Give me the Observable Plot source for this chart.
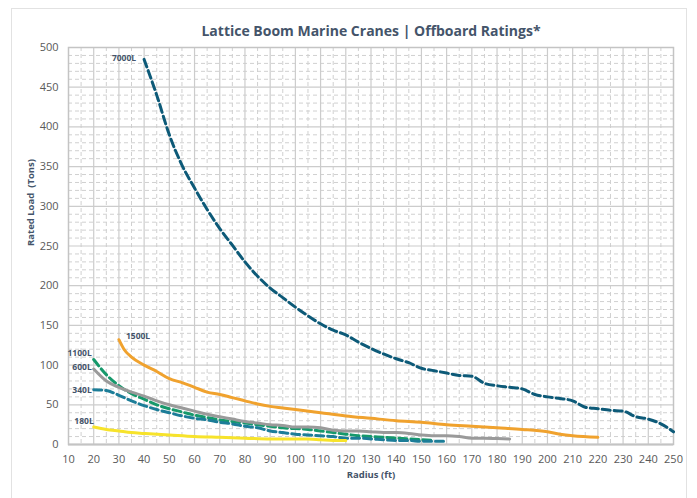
<!DOCTYPE html>
<html><head><meta charset="utf-8">
<script src="https://cdn.jsdelivr.net/npm/d3@7"></script>
<script src="https://cdn.jsdelivr.net/npm/@observablehq/plot@0.6"></script>
<style>
body{margin:0;background:#fff;font-family:"Open Sans",sans-serif;}
#wrap{position:relative;width:697px;height:498px;}
#card{position:absolute;left:11px;top:8px;width:676px;height:500px;border:1px solid #e2e2e2;box-sizing:border-box;pointer-events:none;}
</style></head>
<body><div id="wrap"><div id="card"></div></div>
<script>
const title = "Lattice Boom Marine Cranes | Offboard Ratings*";
const xLabel = "Radius (ft)";
const yLabel = "Rated Load  (Tons)";
const xTicks = d3.range(10, 251, 10);
const yTicks = d3.range(0, 501, 50);

const series = ["7000L", "1500L", "1100L", "600L", "340L", "180L"];

const radius7000 = [40,45,50,55,60,65,70,75,80,85,90,95,100,105,110,115,120,125,130,135,140,145,150,155,160,165,170,175,180,185,190,195,200,205,210,215,220,225,230,235,240,245,250];
const load7000   = [485,440,390,352,323,296,272,251,230,212,197,185,173,162,152,144,138,129,121,114,108,103,96,93,90,87,86,77,74,72,70,63,60,58,55,47,45,43,42,35,32,26,16];

const radius1500 = [30,32,35,40,45,50,55,60,65,70,75,80,85,90,95,100,110,120,130,140,150,160,170,180,190,200,205,210,220];
const load1500   = [132,120,110,100,92,83,78,72,66,63,59,55,51,48,46,44,40,36,33,30,28,25,23,21,19,16,13,11,9];

const radius1100 = [20,25,30,35,40,45,50,55,60,65,70,75,80,85,90,95,100,105,110,115,120,125,130,135,140,145,150,155];
const load1100   = [107,88,74,64,57,50,45,41,37,34,31,29,27,25,23,21,20,19,17,15,13,11,10,9,8,7,6,5];

const radius600 = [20,25,30,35,40,45,50,55,60,65,70,75,80,85,90,95,100,105,110,115,120,125,130,135,140,145,150,155,160,165,170,175,180,185];
const load600   = [95,80,72,66,61,55,50,46,42,38,35,32,29,27,25,24,22,22,21,18,17,17,16,15,15,14,12,11,11,10,8,8,7.5,7];

const radius340 = [20,25,30,35,40,45,50,55,60,65,70,75,80,85,90,95,100,105,110,115,120,125,130,135,140,145,150,155,160];
const load340   = [69,68,62,55,49,44,40,36,33,31,28,26,23,21,17,15,13,12,11,10,8,8,7,6,5,5,4,4,4];

const radius180 = [20,25,30,35,40,50,60,70,80,90,100,105,110,115,120];
const load180   = [22,19,17,15,14,12,10,9,8,7,7,7,6,5,5];

const radii = {"7000L":radius7000,"1500L":radius1500,"1100L":radius1100,"600L":radius600,"340L":radius340,"180L":radius180};
const loads = {"7000L":load7000,"1500L":load1500,"1100L":load1100,"600L":load600,"340L":load340,"180L":load180};
const colors = {"7000L":"#0d5a78","1500L":"#f0a22e","1100L":"#16996b","600L":"#9a9a9a","340L":"#1c7d98","180L":"#f7e32b"};
const dashed = {"7000L":true,"1500L":false,"1100L":true,"600L":false,"340L":true,"180L":false};

function rows(s){ return radii[s].map((r,i)=>({series:s, radius:r, load:loads[s][i]})); }

const labelOpts = {
  "7000L":{anchor:"end",dx:-8,dy:-1},
  "1500L":{anchor:"start",dx:7,dy:-3},
  "1100L":{anchor:"end",dx:-2,dy:-6},
  "600L":{anchor:"end",dx:-2,dy:-2},
  "340L":{anchor:"end",dx:-2,dy:1},
  "180L":{anchor:"end",dx:0,dy:-6}
};

const minorX = d3.range(15, 250, 10);
const minorY = d3.range(10, 500, 10).filter(v => v % 50 !== 0);
const majorX = d3.range(20, 250, 10);
const majorY = d3.range(50, 500, 50);

const marks = [
  Plot.ruleX(minorX, {stroke:"#d0d0d0", strokeDasharray:"4,3", strokeWidth:1}),
  Plot.ruleY(minorY, {stroke:"#d0d0d0", strokeDasharray:"4,3", strokeWidth:1}),
  Plot.ruleX(majorX, {stroke:"#cccccc", strokeWidth:1.2}),
  Plot.ruleY(majorY, {stroke:"#cccccc", strokeWidth:1.2}),
  Plot.frame({stroke:"#c4c4c4", strokeWidth:1.5}),
  Plot.ruleY([0], {stroke:"#c4c4c4", strokeWidth:2}),
];
for (const s of series) {
  marks.push(Plot.line(rows(s), {x:"radius", y:"load", stroke:colors[s], strokeWidth:3,
    strokeDasharray: dashed[s] ? "8,4" : null, curve:"monotone-x"}));
}
for (const s of series) {
  const first = rows(s)[0];
  const o = labelOpts[s];
  marks.push(Plot.text([first], {x:"radius", y:"load", text:()=>s, textAnchor:o.anchor, dx:o.dx, dy:o.dy,
    fill:"#44546a", fontWeight:"bold", fontSize:8.5}));
}
marks.push(
  Plot.axisX(xTicks, {tickSize:0, tickPadding:11, fontSize:11, color:"#595959", label:null}),
  Plot.axisY(yTicks, {tickSize:0, tickPadding:10, fontSize:11, color:"#595959", label:null}),
  Plot.text([title], {frameAnchor:"top", dy:-21, fontSize:14, fontWeight:"bold", fill:"#44546a"}),
  Plot.text([xLabel], {frameAnchor:"bottom", dy:33, fontSize:9.5, fontWeight:"bold", fill:"#44546a"}),
  Plot.text([yLabel], {frameAnchor:"left", dx:-38, rotate:-90, fontSize:9.5, fontWeight:"bold", fill:"#44546a"})
);

const chart = Plot.plot({
  width:697, height:498,
  marginLeft:68, marginRight:24, marginTop:47, marginBottom:54,
  style:{fontFamily:"'Open Sans', sans-serif", background:"transparent"},
  x:{domain:[10,250]},
  y:{domain:[0,500]},
  marks
});
document.getElementById("wrap").appendChild(chart);
</script></body></html>
